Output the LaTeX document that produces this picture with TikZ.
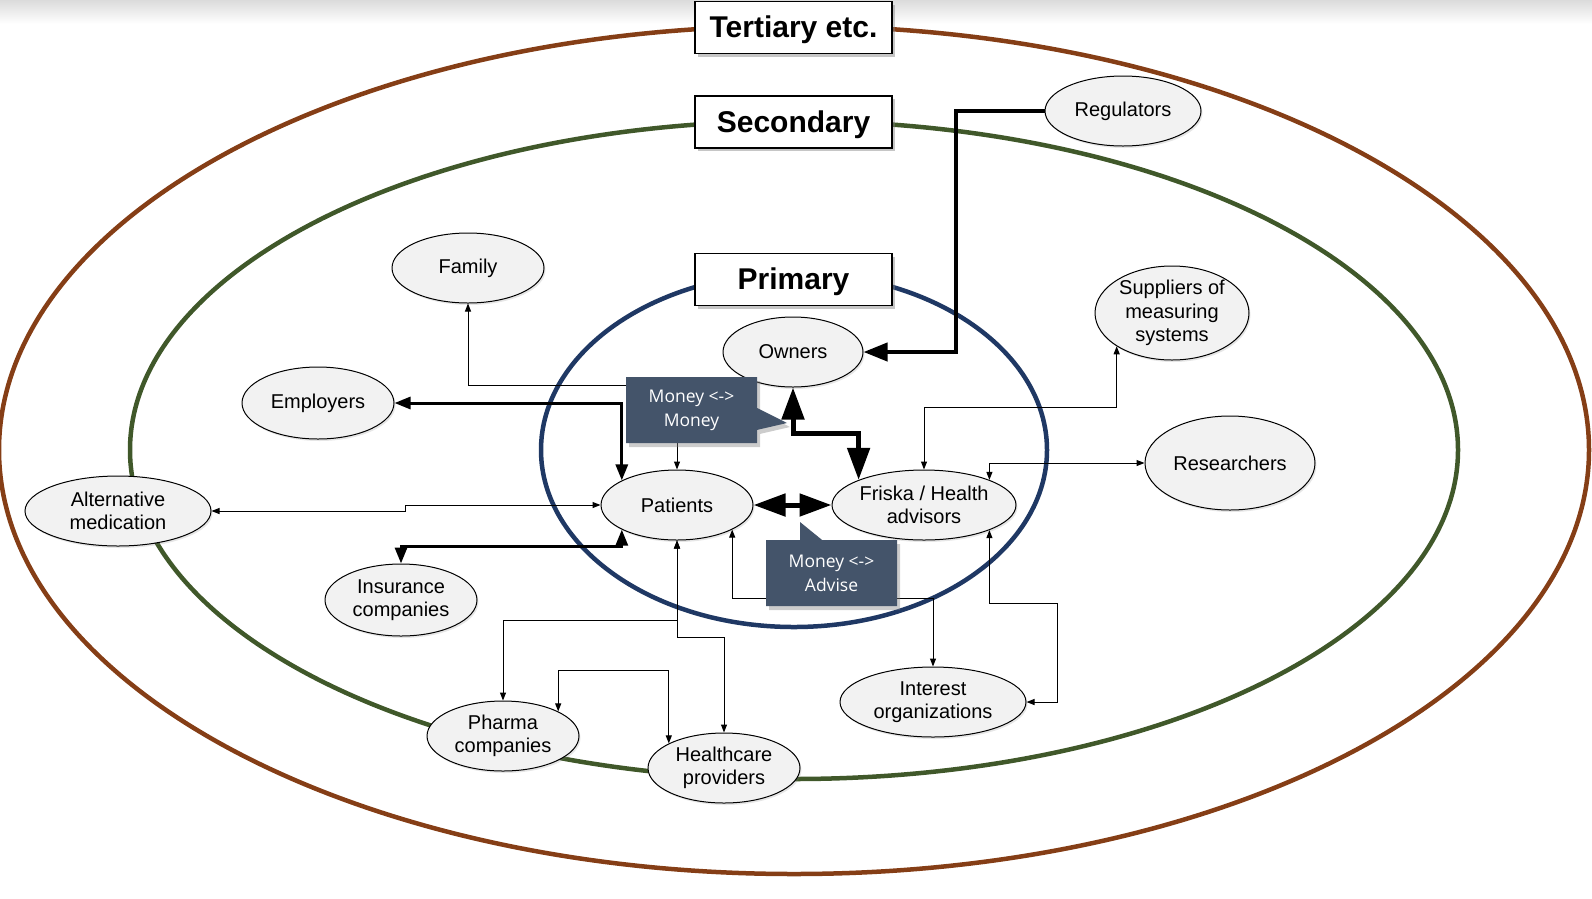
\documentclass[tikz,border=0pt]{standalone}
\usepackage{fontspec}
\setmainfont{Liberation Sans}
\newfontfamily\notefont{Open Sans}
\usetikzlibrary{shapes.geometric,shapes.callouts,shadows,arrows.meta}

\definecolor{ringbrown}{RGB}{133,62,22}
\definecolor{ringgreen}{RGB}{64,88,42}
\definecolor{ringblue}{RGB}{31,56,100}
\definecolor{notefill}{RGB}{68,84,106}
\definecolor{partyfill}{RGB}{242,242,242}

\def\midx{794}
\def\midy{450}

\begin{document}
\begin{tikzpicture}[x=1pt, y=-1pt, line join=miter]
    \tikzstyle{ring}=[line width=4.5pt]
    \tikzstyle{level}=[draw=black, line width=1.5pt, fill=white, minimum width=197pt, minimum height=52pt, inner sep=0pt, text height=27pt, text depth=6.5pt, font=\fontsize{30}{36}\selectfont\bfseries, drop shadow={opacity=0.45, shadow xshift=3pt, shadow yshift=-3pt}]
    \tikzstyle{party}=[ellipse, draw=black, line width=1pt, fill=partyfill, inner sep=0pt, align=center, minimum width=152pt, minimum height=70pt, font=\fontsize{20}{23.5}\selectfont, drop shadow={opacity=0.2, shadow xshift=1.5pt, shadow yshift=-2pt}]
    \tikzstyle{wide party}=[party, minimum width=186pt]
    \tikzstyle{big party}=[party, minimum height=94pt]
    \tikzstyle{note}=[rectangle callout, fill=notefill, text=white, inner sep=0pt, align=center, minimum width=131pt, minimum height=66pt, callout pointer width=22pt, font=\notefont\fontsize{17.5}{24}\selectfont, drop shadow={opacity=0.4, shadow xshift=3pt, shadow yshift=-4pt}]

    \tikzstyle{link}=[line width=1pt, arrows={Triangle[length=8pt,width=6pt]-Triangle[length=8pt,width=6pt]}]
    \tikzstyle{cash link}=[line width=3pt, arrows={Triangle[length=16pt,width=12pt]-Triangle[length=16pt,width=12pt]}]
    \tikzstyle{core link}=[line width=5pt, arrows={Triangle[length=32pt,width=22pt]-Triangle[length=32pt,width=22pt]}]
    \tikzstyle{rule link}=[line width=4pt, arrows={-Triangle[length=24pt,width=18pt]}]

    \useasboundingbox (0,0) rectangle (1592,898);
    \shade[top color=black!14, bottom color=white] (0,0) rectangle (1592,24);

    % stakeholder rings
    \foreach \col / \rx / \ry in {ringbrown/795/424, ringgreen/664/329, ringblue/253/177}
        \draw[ring, draw=\col] (\midx,\midy) ellipse [x radius=\rx, y radius=\ry];

    \node[level] (ter) at (793.5,27.5) {Tertiary etc.};
    \node[level] (sec) at (793.5,122) {Secondary};
    \node[level] (pri) at (793.5,279.5) {Primary};

    % primary
    \node[party] (pat) at (677,505) {Patients};
    \node[party, minimum width=184pt] (fri) at (924,505) {Friska / Health\\advisors};
    \node[party, minimum width=140pt] (own) at (793,352) {Owners};

    % secondary and beyond
    \node[party] (fam) at (468,268) {Family};
    \node[party, minimum height=72pt] (emp) at (318,403) {Employers};
    \node[wide party] (alt) at (118,511) {Alternative\\medication};
    \node[party, minimum height=72pt] (ins) at (401,600) {Insurance\\companies};
    \node[party] (pha) at (503,736) {Pharma\\companies};
    \node[party] (hea) at (724,768) {Healthcare\\providers};
    \node[wide party] (int) at (933,702) {Interest\\organizations};
    \node[big party, minimum width=154pt] (sup) at (1172,313) {Suppliers of\\measuring\\systems};
    \node[big party, minimum width=170pt] (res) at (1230,463) {Researchers};
    \node[party, minimum width=156pt] (reg) at (1123,111) {Regulators};

    \draw[link] (pat.north) -- ++(0,-84) -| (fam.south);
    \draw[link] (alt.east) -- ++(194,0) |- (pat.west);
    \draw[link] (pat.south) -- ++(0,80) -| (pha.north);
    \draw[link] (pat.south) -- ++(0,97) -| (hea.north);
    \draw[link] (pha.24) -- ++(0,-41) -| (hea.156);
    \draw[link] (pat.336) -- ++(0,69) -| (int.north);
    \draw[link] (fri.339) -- ++(0,73) -| ([xshift=31pt]int.east) -- (int.east);
    \draw[link] (fri.21) |- (res.west);
    \draw[link] (fri.north) -- ++(0,-62) -| (sup.211);

    \draw[cash link] (emp.east) -| (pat.156);
    \draw[cash link] (ins.north) -- ++(0,-17) -| (pat.204);
    \draw[core link] (own.south) -- ++(0,46) -| (fri.159);
    \draw[core link] (pat.east) -- (fri.west);
    \draw[rule link] (reg.west) -- ++(-89,0) |- (own.east);

    \coordinate (mmtip) at (787,423);
    \coordinate (matip) at (800,522);
    \node[note, callout absolute pointer={(mmtip)}] (mm) at (691.5,410) {Money <->\\Money};
    \node[note, callout absolute pointer={(matip)}] (ma) at (831.5,573) {Money <->\\Advise};
\end{tikzpicture}
\end{document}
